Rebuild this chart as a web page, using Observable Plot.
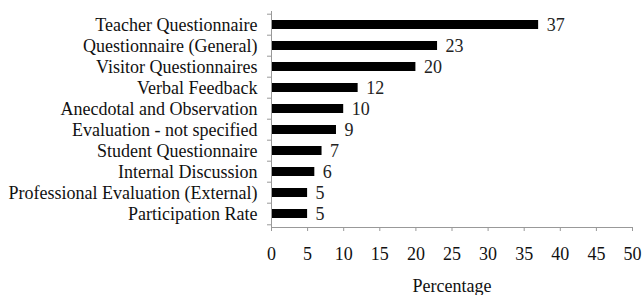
<!DOCTYPE html>
<html><head><meta charset="utf-8">
<script src="https://cdn.jsdelivr.net/npm/d3@7"></script>
<script src="https://cdn.jsdelivr.net/npm/@observablehq/plot@0.6"></script>
<style>body{margin:0;background:#fff;} svg, svg text{font-family:"Liberation Serif","Times New Roman",serif !important;}</style>
</head><body><div id="chart"></div>
<script>
const categories = ["Teacher Questionnaire","Questionnaire (General)","Visitor Questionnaires","Verbal Feedback","Anecdotal and Observation","Evaluation - not specified","Student Questionnaire","Internal Discussion","Professional Evaluation (External)","Participation Rate"];
const values = [37,23,20,12,10,9,7,6,5,5];
const xTicks = [0,5,10,15,20,25,30,35,40,45,50];
const data = categories.map((c,i)=>({category:c, value:values[i]}));
const mt = 11, mb = 68, H = 295;
const step = (H - mt - mb) / categories.length;
const font = "Liberation Serif";
const fs = 18;
const chart = Plot.plot({
  width: 644, height: H,
  marginLeft: 271, marginRight: 12, marginTop: mt, marginBottom: mb,
  style: {fontFamily: font, fontSize: fs + "px", color: "#111", background: "#fff"},
  x: {domain: [0,50]},
  y: {domain: categories, paddingInner: 0.55, paddingOuter: 0.275},
  marks: [
    Plot.barX(data, {x: "value", y: "category", fill: "#000"}),
    Plot.text(data, {x: "value", y: "category", text: d => String(d.value), dx: 8, textAnchor: "start", fill: "#222", fontSize: fs, fontFamily: font}),
    Plot.ruleX([0], {stroke: "#999"}),
    Plot.frame({anchor: "bottom", stroke: "#999"}),
    Plot.ruleY(categories, {y: d => d, x1: -0.55, x2: 0, dy: -step/2, stroke: "#999"}),
    Plot.ruleY(categories.slice(-1), {y: d => d, x1: -0.55, x2: 0, dy: step/2, stroke: "#999"}),
    Plot.axisY({label: null, tickSize: 0, tickPadding: 14, fontSize: fs, fontFamily: font}),
    Plot.axisX({ticks: xTicks, tickSize: 4, tickPadding: 16, stroke: "#999", label: "Percentage", labelAnchor: "center", labelArrow: "none", labelOffset: 64, fontSize: fs, fontFamily: font}),
  ]
});
document.getElementById("chart").appendChild(chart);
</script></body></html>
